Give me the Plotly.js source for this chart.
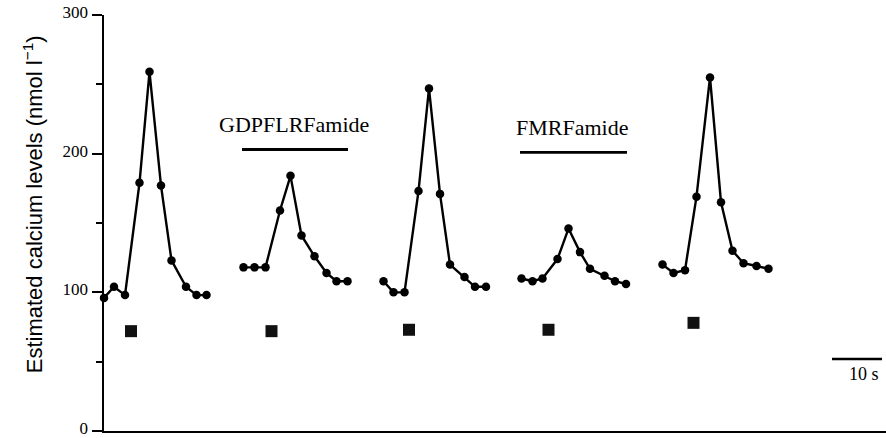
<!DOCTYPE html>
<html>
<head>
<meta charset="utf-8">
<script src="https://cdn.plot.ly/plotly-3.0.1.min.js"></script>
<style>html,body{margin:0;padding:0;background:#fff;}#chart{width:886px;height:438px;}</style>
</head>
<body>
<div id="chart"></div>
<script>
// Time (s) and estimated calcium (nmol l-1) for each of the five responses
const t1 = [0, 2, 4.2, 7.1, 9.1, 11.4, 13.5, 16.4, 18.5, 20.5];
const ca1 = [96, 104, 98, 179, 259, 177, 123, 104, 98, 98];
const t2 = [27.9, 30.1, 32.3, 35.2, 37.3, 39.5, 42.1, 44.5, 46.5, 48.7];
const ca2 = [118, 118, 118, 159, 184, 141, 126, 114, 108, 108];
const t3 = [55.9, 57.9, 60.1, 62.9, 65.0, 67.2, 69.2, 72.1, 74.2, 76.4];
const ca3 = [108, 100, 100, 173, 247, 171, 120, 111, 104, 104];
const t4 = [83.5, 85.7, 87.7, 90.7, 92.9, 95.2, 97.2, 100.1, 102.2, 104.4];
const ca4 = [110, 108, 110, 124, 146, 129, 117, 112, 108, 106];
const t5 = [111.7, 113.9, 116.2, 118.5, 121.2, 123.4, 125.7, 127.9, 130.5, 132.9];
const ca5 = [120, 114, 116, 169, 255, 165, 130, 121, 119, 117];

// Stimulus markers
const stimT = [5.4, 33.5, 61.0, 88.9, 117.9];
const stimCa = [72, 72, 73, 73, 78];

// Peptide application bars
const drugNames = ["GDPFLRFamide", "FMRFamide"];
const drugStart = [27.6, 83.2];
const drugEnd = [48.8, 104.6];
const drugLevel = [203, 201];
const drugLabelT = [37.9, 93.5];
const drugLabelY = [221, 219];

// Time scale bar
const scaleStart = 145.6, scaleEnd = 155.6, scaleLevel = 52, scaleLabel = "10 s";

const yTicks = [0, 100, 200, 300];
const yMinor = [50, 150, 250];

const series = [[t1, ca1], [t2, ca2], [t3, ca3], [t4, ca4], [t5, ca5]];
const traces = series.map(([x, y]) => ({
  x: x, y: y, type: 'scatter', mode: 'lines+markers',
  line: {color: '#000', width: 2.4},
  marker: {color: '#000', size: 8.5},
  cliponaxis: false, showlegend: false, hoverinfo: 'skip'
}));
traces.push({
  x: stimT, y: stimCa, type: 'scatter', mode: 'markers',
  marker: {color: '#111', size: 12, symbol: 'square'},
  showlegend: false, hoverinfo: 'skip'
});
drugNames.forEach((n, i) => {
  traces.push({
    x: [drugStart[i], drugEnd[i]], y: [drugLevel[i], drugLevel[i]],
    type: 'scatter', mode: 'lines', line: {color: '#000', width: 2.8},
    showlegend: false, hoverinfo: 'skip'
  });
});
traces.push({
  x: [scaleStart, scaleEnd], y: [scaleLevel, scaleLevel],
  type: 'scatter', mode: 'lines', line: {color: '#000', width: 2.5},
  showlegend: false, hoverinfo: 'skip', cliponaxis: false
});

const serif = 'Liberation Serif, Times New Roman, serif';
const annotations = [
  {x: drugLabelT[0], y: drugLabelY[0], xref: 'x', yref: 'y', text: drugNames[0],
   showarrow: false, font: {family: serif, size: 22, color: '#000'}},
  {x: drugLabelT[1], y: drugLabelY[1], xref: 'x', yref: 'y', text: drugNames[1],
   showarrow: false, font: {family: serif, size: 22, color: '#000'}},
  {x: (scaleStart + scaleEnd) / 2 + 1.4, y: 41, xref: 'x', yref: 'y', text: scaleLabel,
   showarrow: false, font: {family: serif, size: 18, color: '#000'}},
  {x: -0.112, y: 0.546, xref: 'paper', yref: 'paper', textangle: -90,
   text: 'Estimated calcium levels (nmol l<sup>−1</sup>)', showarrow: false,
   font: {family: 'Liberation Sans, Arial, sans-serif', size: 22, color: '#000'}}
];

const layout = {
  width: 886, height: 438,
  margin: {l: 104, r: 0, t: 15, b: 7},
  paper_bgcolor: '#fff', plot_bgcolor: '#fff',
  xaxis: {range: [0, 156.4], showline: true, linecolor: '#000', linewidth: 2.2,
          showticklabels: false, ticks: '', showgrid: false, zeroline: false},
  yaxis: {range: [0, 300], showline: true, linecolor: '#000', linewidth: 2.5,
          tickvals: yTicks, ticktext: yTicks.map(String), ticks: 'outside', ticklen: 10, tickwidth: 2,
          tickcolor: '#000', showgrid: false, zeroline: false, ticklabeloverflow: 'allow',
          automargin: false, ticklabelshift: -3,
          tickfont: {family: serif, size: 17, color: '#000'},
          minor: {tickvals: yMinor, ticks: 'outside', ticklen: 6, tickwidth: 2, tickcolor: '#000', showgrid: false}},
  annotations: annotations
};

Plotly.newPlot('chart', traces, layout, {staticPlot: true, displayModeBar: false});
</script>
</body>
</html>
